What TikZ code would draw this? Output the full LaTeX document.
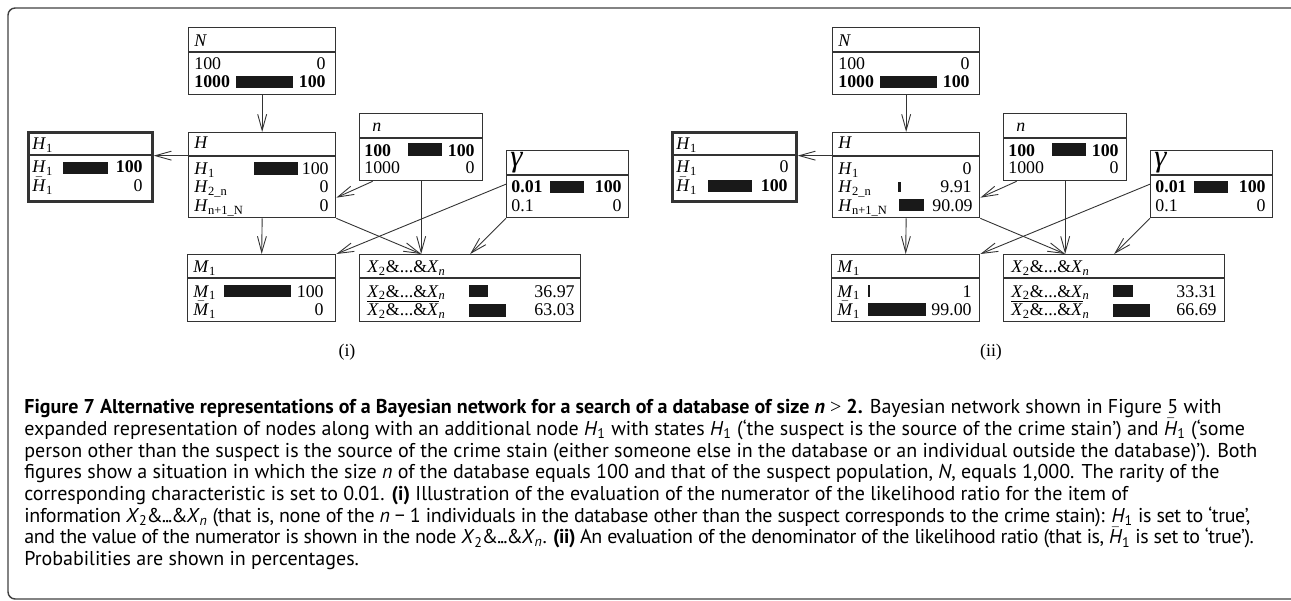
\documentclass[tikz,border=0pt]{standalone}
\usepackage{fontspec}
\setmainfont{Liberation Serif}
\newfontfamily\capfont{PT Sans}
\usetikzlibrary{arrows.meta,positioning}

\newcommand{\ovl}[1]{\smash{$\bar{\mbox{\textit{#1}}}$}}
\newcommand{\vH}[1]{\textit{H}\textsubscript{#1}}
\newcommand{\vHb}{\ovl{H}\textsubscript{1}}
\newcommand{\vM}{\textit{M}\textsubscript{1}}
\newcommand{\vMb}{\ovl{M}\textsubscript{1}}
\newcommand{\vX}{\textit{X}\textsubscript{2}\&...\&\textit{X}\textsubscript{\textit{n}}}
\newcommand{\vXb}{\smash{$\overline{\mbox{\textit{X}\textsubscript{2}\&...\&\textit{X}}}$}\textsubscript{\textit{n}}}
\newcommand{\cX}{\textit{X}\textsubscript{2}\kern-0.05em\&\kern-0.05em.\kern-0.06em.\kern-0.06em.\kern-0.05em\&\kern-0.05em\textit{X}\textsubscript{\textit{n}}}

\begin{document}
\begin{tikzpicture}[x=0.56pt,y=-0.56pt]
\tikzstyle{bnbox}=[draw=black!80,line width=0.75pt,inner sep=0pt,anchor=north west]
\tikzstyle{hypbox}=[bnbox,line width=1.5pt]
\tikzstyle{lbl}=[anchor=base west,inner sep=0pt]
\tikzstyle{val}=[anchor=base east,inner sep=0pt]
\tikzstyle{bar}=[fill=black!90]
\tikzstyle{arr}=[draw=black!80,line width=0.5pt,-{Straight Barb[length=9pt,width=5pt]}]

\useasboundingbox (0,0) rectangle (1291,601);
\draw[black!75,line width=0.8pt,rounded corners=4pt] (1400,8) -- (8,8) -- (8,599) -- (1400,599);

% the network, same in both panels
\foreach \dx/\p in {0/i,360.64/ii}{
\begin{scope}[xshift=\dx pt,name prefix=\p-]
\node[bnbox,minimum width=82.32pt,minimum height=37.52pt] at (188,27) (N) {};
\node[hypbox,minimum width=69.44pt,minimum height=38.64pt] at (27,131) (H1) {};
\node[bnbox,minimum width=82.32pt,minimum height=47.6pt] at (188,132) (H) {};
\node[bnbox,minimum width=68.88pt,minimum height=37.52pt] at (359,113) (n) {};
\node[bnbox,minimum width=68.32pt,minimum height=37.52pt] at (506,150) (gam) {};
\node[bnbox,minimum width=82.88pt,minimum height=37.52pt] at (187,254) (M1) {};
\node[bnbox,minimum width=123.76pt,minimum height=37.52pt] at (359,254) (X) {};

\draw[bnbox] (188,52) -- (335,52);
\draw[bnbox] (27,155) -- (151,155);
\draw[bnbox] (188,156) -- (335,156);
\draw[bnbox] (359,138) -- (482,138);
\draw[bnbox] (506,175) -- (628,175);
\draw[bnbox] (187,278) -- (335,278);
\draw[bnbox] (359,278) -- (580,278);

\node[lbl] at (194,47) (Nt) {\textit{N}};
\node[lbl] at (32,150) (H1t) {\vH{1}};
\node[lbl] at (194,149) (Ht) {\textit{H}};
\node[lbl] at (372,132) (nt) {\textit{n}};
\node[lbl] at (510,167) (gamt) {\LARGE\textit{γ}};
\node[lbl] at (193,273) (M1t) {\vM};
\node[lbl] at (367,273) (Xt) {\vX};

% states of N, n and gamma
\node[lbl] at (194,70) (N1) {100};
\node[val] at (326,70) (N1v) {0};
\node[lbl,font=\bfseries] at (194,88) (N2) {1000};
\fill[bar] (236,76) rectangle (293,88);
\node[val,font=\bfseries] at (326,88) (N2v) {100};
\node[lbl,font=\bfseries] at (364,157) (n1) {100};
\fill[bar] (408,143) rectangle (442,156);
\node[val,font=\bfseries] at (475,157) (n1v) {100};
\node[lbl] at (364,174) (n2) {1000};
\node[val] at (475,174) (n2v) {0};
\node[lbl,font=\bfseries] at (511,193) (gam1) {0.01};
\fill[bar] (550,181) rectangle (584,193);
\node[val,font=\bfseries] at (622,193) (gam1v) {100};
\node[lbl] at (511,211) (gam2) {0.1};
\node[val] at (622,211) (gam2v) {0};

\coordinate (Hl) at ([yshift=10.92pt]H.west);
\draw[arr] (N.south) -- (H.north);
\draw[arr] (Hl) -- (Hl -| H1.east);
\draw[arr] ([xshift=-27.2pt]n.south) -- ([yshift=-12.6pt]H.east);
\draw[arr] (n.south) -- (n.south |- X.north);
\draw[arr] (H.south east) -- (n.south |- X.north);
\draw[arr] (gam.west) -- (M1.north east);
\draw[arr] (gam.south west) -- (X.north);
\draw[arr] (H.south) -- (M1.north);
\end{scope}
}

% (i) numerator
\begin{scope}[name prefix=i-]
\node[lbl] at (32,173) (H1a) {\vH{1}};
\fill[bar] (63,162) rectangle (108,174);
\node[val,font=\bfseries] at (143,173) (H1av) {100};
\node[lbl] at (32,192) (H1b) {\vHb};
\node[val] at (143,192) (H1bv) {0};
\node[lbl] at (194,175) (Ha) {\vH{1}};
\fill[bar] (254,162) rectangle (298,175);
\node[val] at (329,175) (Hav) {100};
\node[lbl] at (194,193) (Hb) {\vH{2\_n}};
\node[val] at (329,193) (Hbv) {0};
\node[lbl] at (194,212) (Hc) {\vH{n+1\_N}};
\node[val] at (329,212) (Hcv) {0};
\node[lbl] at (193,297) (M1a) {\vM};
\fill[bar] (224,285) rectangle (291,297);
\node[val] at (324,297) (M1av) {100};
\node[lbl] at (193,316) (M1b) {\vMb};
\node[val] at (324,316) (M1bv) {0};
\node[lbl] at (367,297) (Xa) {\vX};
\fill[bar] (469,285) rectangle (488,297);
\node[val] at (575,297) (Xav) {36.97};
\node[lbl] at (367,316) (Xb) {\vXb};
\fill[bar] (469,304) rectangle (506,317);
\node[val] at (575,316) (Xbv) {63.03};
\node at (347,352) (lab) {(i)};
\end{scope}

% (ii) denominator
\begin{scope}[xshift=360.64pt,name prefix=ii-]
\node[lbl] at (32,173) (H1a) {\vH{1}};
\node[val] at (145,173) (H1av) {0};
\node[lbl] at (32,192) (H1b) {\vHb};
\fill[bar] (64,180) rectangle (108,192);
\node[val,font=\bfseries] at (144,192) (H1bv) {100};
\node[lbl] at (194,175) (Ha) {\vH{1}};
\node[val] at (328,175) (Hav) {0};
\node[lbl] at (194,193) (Hb) {\vH{2\_n}};
\fill[bar] (254,182) rectangle (256.5,192);
\node[val] at (328,193) (Hbv) {9.91};
\node[lbl] at (194,212) (Hc) {\vH{n+1\_N}};
\fill[bar] (255,199) rectangle (280,211);
\node[val] at (329,212) (Hcv) {90.09};
\node[lbl] at (193,297) (M1a) {\vM};
\fill[bar] (224,285) rectangle (226,297);
\node[val] at (328,297) (M1av) {1};
\node[lbl] at (193,316) (M1b) {\vMb};
\fill[bar] (224,303) rectangle (282,316);
\node[val] at (328,316) (M1bv) {99.00};
\node[lbl] at (367,297) (Xa) {\vX};
\fill[bar] (469,285) rectangle (489,297);
\node[val] at (573,297) (Xav) {33.31};
\node[lbl] at (367,316) (Xb) {\vXb};
\fill[bar] (469,304) rectangle (506,317);
\node[val] at (573,316) (Xbv) {66.69};
\node at (347,352) (lab) {(ii)};
\end{scope}

% caption
\node[anchor=north west,align=left,inner sep=0pt,font=\capfont\fontsize{11.2}{12.15}\selectfont] at (24,399) (cap) {%
\textbf{Figure 7 Alternative representations of a Bayesian network for a search of a database of size \textit{n} {\normalfont >} 2.} Bayesian network shown in Figure 5 with\\
expanded representation of nodes along with an additional node \vH{1} with states \vH{1} (‘the suspect is the source of the crime stain’) and \vHb{} (‘some\\
person other than the suspect is the source of the crime stain (either someone else in the database or an individual outside the database)’). Both\\
figures show a situation in which the size \textit{n} of the database equals 100 and that of the suspect population, \textit{N}, equals 1,000. The rarity of the\\
corresponding characteristic is set to 0.01. \textbf{(i)} Illustration of the evaluation of the numerator of the likelihood ratio for the item of\\
{\addfontfeature{LetterSpace=-1.6}information \cX{} (that is, none of the \textit{n} − 1 individuals in the database other than the suspect corresponds to the crime stain): \vH{1} is set to ‘true’,}\\
{\addfontfeature{LetterSpace=-2.1}and the value of the numerator is shown in the node \cX. \textbf{(ii)} An evaluation of the denominator of the likelihood ratio (that is, \vHb{} is set to ‘true’).}\\
Probabilities are shown in percentages.};
\end{tikzpicture}
\end{document}
